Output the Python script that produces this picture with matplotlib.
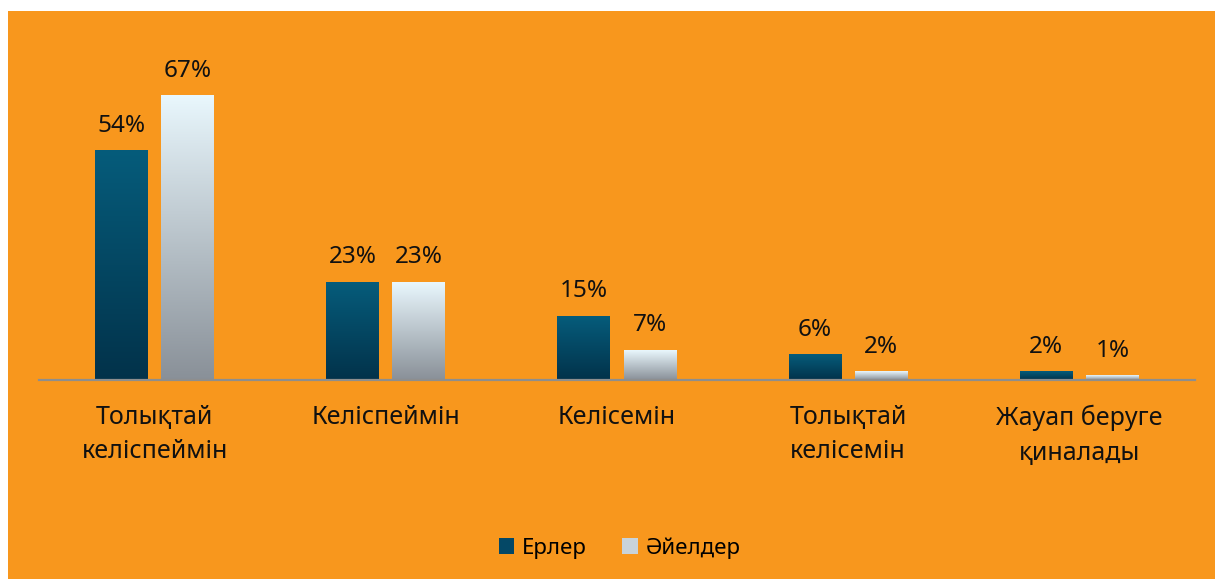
import matplotlib.pyplot as plt
import numpy as np
from matplotlib.patches import Rectangle, Patch
from matplotlib.colors import LinearSegmentedColormap

plt.rcParams['font.family'] = ['Noto Sans', 'DejaVu Sans']

categories = ['Толықтай\nкеліспеймін', 'Келіспеймін', 'Келісемін',
              'Толықтай\nкелісемін', 'Жауап беруге\nқиналады']
men = [54, 23, 15, 6, 2]
women = [67, 23, 7, 2, 1]
series_names = ['Ерлер', 'Әйелдер']

orange = '#F8971D'
dark_grad = LinearSegmentedColormap.from_list('dark', ['#02324A', '#065C7B'])
light_grad = LinearSegmentedColormap.from_list('light', ['#899098', '#E9F7FD'])

fig = plt.figure(figsize=(12.15, 5.79), dpi=100)
fig.patch.set_facecolor('white')
fig.patches.append(Rectangle((8 / 1215, 0), 1 - 8 / 1215, 1 - 11 / 579,
                             transform=fig.transFigure, facecolor=orange,
                             edgecolor='none', zorder=-10))

ax = fig.add_axes([39 / 1215, 1 - 380 / 579, 1156 / 1215, 369 / 579])
ax.set_facecolor('none')

x = np.arange(len(categories))
w = 0.229
off = 0.143
grad = np.linspace(0, 1, 256).reshape(-1, 1)

for vals, dx, cmap in [(men, -off, dark_grad), (women, off, light_grad)]:
    for xi, v in zip(x, vals):
        ax.imshow(grad, cmap=cmap, origin='lower', aspect='auto',
                  extent=[xi + dx - w / 2, xi + dx + w / 2, 0, v], zorder=2)
        ax.annotate(f'{v}%', (xi + dx, v), xytext=(0, 18), textcoords='offset points',
                    ha='center', va='center', fontsize=17.5, color='#111111')

ax.set_xlim(-0.5, len(categories) - 0.5)
ax.set_ylim(0, 87)
for s in ['top', 'right', 'left']:
    ax.spines[s].set_visible(False)
ax.spines['bottom'].set_color('#8E8E8E')
ax.spines['bottom'].set_linewidth(1.6)
ax.spines['bottom'].set_zorder(3)
ax.set_yticks([])
ax.set_xticks(x)
ax.set_xticklabels(categories, fontsize=18, color='#111111', linespacing=1.5)
ax.tick_params(axis='x', length=0, pad=18)

handles = [Patch(facecolor='#044866', edgecolor='none'),
           Patch(facecolor='#C9D3D9', edgecolor='none')]
fig.legend(handles, series_names, loc='center', bbox_to_anchor=(0.51, 1 - 548 / 579),
           ncol=2, frameon=False, fontsize=16, handlelength=0.7, handleheight=0.7,
           handletextpad=0.35, columnspacing=1.6)

fig.savefig('out.png', dpi=100, facecolor=fig.get_facecolor())
